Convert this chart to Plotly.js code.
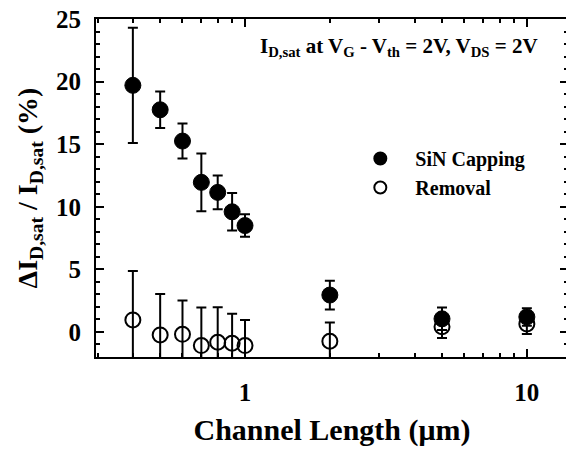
<!DOCTYPE html>
<html><head><meta charset="utf-8">
<script src="https://cdn.plot.ly/plotly-3.0.1.min.js"></script>
<style>html,body{margin:0;padding:0;overflow:hidden;background:#fff}#chart{width:568px;height:450px}</style>
</head><body><div id="chart"></div><script>
const channelLength = [0.4, 0.5, 0.6, 0.7, 0.8, 0.9, 1, 2, 5, 10];
const sinCapping    = [19.7, 17.75, 15.25, 11.95, 11.15, 9.6, 8.5, 2.95, 1.05, 1.2];
const sinCappingErr = [4.6, 1.45, 1.4, 2.3, 1.35, 1.5, 0.9, 1.15, 0.9, 0.7];
const removal       = [0.96, -0.24, -0.19, -1.09, -0.82, -0.9, -1.09, -0.74, 0.42, 0.64];
const removalErr    = [3.9, 3.27, 2.7, 3.05, 2.8, 2.35, 2.05, 1.5, 0.9, 0.8];
const xTickVals = [1, 10];
const xTickText = ['1', '10'];
const xMinorVals = [0.3, 0.4, 0.5, 0.6, 0.7, 0.8, 0.9, 2, 3, 4, 5, 6, 7, 8, 9];
const yTickVals = [0, 5, 10, 15, 20, 25];
const seriesNames = ['SiN Capping', 'Removal'];

const FONT = 'Liberation Serif, Times New Roman, serif';
const pad = '\u00a0\u00a0\u00a0';

const traces = [
  {
    x: channelLength, y: removal, type: 'scatter', mode: 'markers',
    name: pad + seriesNames[1], legendrank: 2, legendgroup: 'b',
    marker: {symbol: 'circle-open', size: 15, color: '#000', line: {width: 2, color: '#000'}},
    error_y: {type: 'data', array: removalErr, visible: true, color: '#000', thickness: 2, width: 5},
    cliponaxis: true
  },
  {
    x: channelLength, y: sinCapping, type: 'scatter', mode: 'markers',
    name: pad + seriesNames[0], legendrank: 1, legendgroup: 'a',
    marker: {symbol: 'circle', size: 16, color: '#000', line: {width: 1, color: '#000'}},
    error_y: {type: 'data', array: sinCappingErr, visible: true, color: '#000', thickness: 2, width: 5},
    cliponaxis: true
  }
];

const axisCommon = {
  showline: true, linecolor: '#000', linewidth: 2, mirror: 'ticks',
  ticks: 'inside', tickcolor: '#000', tickwidth: 2, ticklen: 8,
  showgrid: false, zeroline: false,
  tickfont: {family: FONT, size: 25, weight: 'bold', color: '#000'}
};

const layout = {
  width: 568, height: 450,
  margin: {l: 96, r: 0, t: 19, b: 93},
  paper_bgcolor: '#fff', plot_bgcolor: '#fff',
  showlegend: true,
  legend: {
    x: 0.56, y: 0.645, xanchor: 'left', yanchor: 'top',
    bgcolor: 'rgba(0,0,0,0)', borderwidth: 0,
    font: {family: FONT, size: 20, weight: 'bold', color: '#000'},
    itemsizing: 'constant', traceorder: 'grouped', tracegroupgap: 0
  },
  xaxis: Object.assign({}, axisCommon, {
    type: 'log',
    range: [Math.log10(0.296), 1.146],
    tickmode: 'array', tickvals: xTickVals, ticktext: xTickText,
    ticklabelstandoff: 12,
    minor: {ticks: 'inside', ticklen: 4, tickwidth: 2, tickcolor: '#000', tickmode: 'array', tickvals: xMinorVals, showgrid: false},
    title: {text: 'Channel Length (μm)', font: {family: FONT, size: 30, weight: 'bold', color: '#000'}, standoff: 14}
  }),
  yaxis: Object.assign({}, axisCommon, {
    range: [-2, 25],
    tickmode: 'array', tickvals: yTickVals,
    ticklabelstandoff: 8,
    minor: {ticks: 'inside', ticklen: 4, tickwidth: 2, tickcolor: '#000', dtick: 1, showgrid: false},
    title: {text: 'ΔI<sub>D,sat</sub> / I<sub>D,sat</sub> (%)', font: {family: FONT, size: 28, weight: 'bold', color: '#000'}, standoff: 10}
  }),
  annotations: [{
    xref: 'paper', yref: 'paper', x: 0.642, y: 0.917, xanchor: 'center', yanchor: 'middle',
    showarrow: false,
    text: 'I<sub>D,sat</sub> at V<sub>G</sub> - V<sub>th</sub> = 2V, V<sub>DS</sub> = 2V',
    font: {family: FONT, size: 21, weight: 'bold', color: '#000'}
  }]
};

Plotly.newPlot('chart', traces, layout, {displayModeBar: false, staticPlot: true});
</script></body></html>
